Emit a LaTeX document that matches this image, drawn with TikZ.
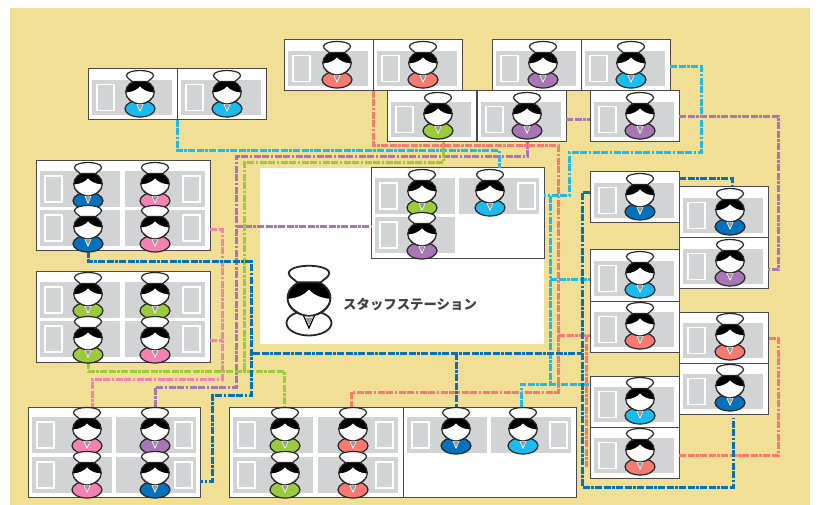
\documentclass[tikz,border=0pt]{standalone}
\usepackage{fontspec}
\newfontfamily\cjk{Noto Sans CJK JP}
\definecolor{floorbg}{HTML}{F0DF94}
\definecolor{panelgray}{HTML}{D1D3D4}
\definecolor{boxline}{HTML}{4A4A4A}
\definecolor{ncyan}{HTML}{1CBBEE}
\definecolor{nblue}{HTML}{0072BC}
\definecolor{npink}{HTML}{F282B4}
\definecolor{npurple}{HTML}{A875B5}
\definecolor{ngreen}{HTML}{9BCB3C}
\definecolor{nsalmon}{HTML}{F47A72}
\tikzset{
  unit/.style={draw=boxline, fill=white, line width=1pt, minimum width=89pt, minimum height=51pt,
    inner sep=0pt, outer sep=0pt, anchor=north west},
  group/.style={unit, minimum width=174pt, minimum height=90pt},
  panel/.style={fill=panelgray},
  slot/.style={draw=white, line width=1.5pt},
  wire/.style={line width=3pt, dash pattern=on 7pt off 1.5pt on 7pt off 1.5pt on 2.5pt off 1.5pt},
  nurseline/.style={line width=1.2pt, draw=black!85},
  collar/.style={fill=white},
  pics/nurse/.style={code={
    \filldraw[fill=#1, nurseline] (0,38.7) ellipse [x radius=15, y radius=8.3];
    \path[collar] (-4,33) -- (4,33) -- (0,42) -- cycle;
    \fill[gray!80] (-2.5,35) -- (2.5,35) -- (0,40) -- cycle;
    \filldraw[fill=black, nurseline] (0,22) ellipse [x radius=14.3, y radius=11.8];
    \fill[white] (-13.6,22.5) .. controls (-8,22) and (-3,20) .. (0,16.5) .. controls (3,20) and (8,22) .. (13.6,22.5)
      .. controls (13.6,28) and (6,33.3) .. (0,33.3) .. controls (-6,33.3) and (-13.6,28) .. (-13.6,22.5) -- cycle;
    \filldraw[fill=white, nurseline] (-8,11.5) .. controls (-9,10) and (-13.5,8) .. (-13.5,5.5)
      .. controls (-13.5,2) and (-6,0.5) .. (0,0.5) .. controls (6,0.5) and (13.5,2) .. (13.5,5.5)
      .. controls (13.5,8) and (9,10) .. (8,11.5) -- cycle;
  }},
}

\begin{document}
\begin{tikzpicture}[x=1pt, y=-1pt]
  \useasboundingbox (0,0) rectangle (817,505);
  \fill[white] (0,0) rectangle (817,505);
  \fill[floorbg] (10,8) rectangle (810,505);
  \fill[white] (260,168) rectangle (544,344);

  % single desks
  \foreach \n/\x/\y in {wa/88/69, wb/177/69, ra/284/40, rb/373/40, pa/492/40, pb/581/40,
      qa/387/91, qb/477/91, qc/590/91, ea/590/172, eb/679/187, ec/679/238,
      ed/590/250, ee/590/301, ef/679/312, eg/679/363, eh/590/376, ei/590/427} {
    \node[unit] (\n) at (\x,\y) {};
    \fill[panel] (\x+4,\y+11) rectangle ++(80,35);
    \draw[slot] (\x+9,\y+15.5) rectangle ++(17,26);
  }

  % shared desks
  \node[group] (ga) at (36,161) {};
  \node[group] (gb) at (36,272) {};
  \node[group, minimum width=172pt] (gc) at (28,407) {};
  \node[group] (gd) at (229,407) {};
  \node[group, minimum width=173pt] (ge) at (403,407) {};
  \node[group, minimum width=173pt, minimum height=91pt] (cn) at (371,168) {};
  \foreach \x/\y/\s in {40/171/5, 125/171/58, 40/210/5, 125/210/58,
      40/282/5, 125/282/58, 40/321/5, 125/321/58,
      32/417/5, 116/417/59, 32/457/5, 116/457/59,
      233/417/5, 318/417/58, 233/457/5, 318/457/58,
      407/417/5, 491/417/59, 375/178/5, 459/178/59, 375/217/5} {
    \fill[panel] (\x,\y) rectangle ++(80,36);
    \draw[slot] (\x+\s,\y+5) rectangle ++(17,26);
  }

  % cyan lines
  \coordinate (cya) at (499,151);
  \coordinate (cyb) at (701,153);
  \coordinate (cyc) at (569,196);
  \coordinate (cyd) at (550,196);
  \coordinate (cye) at (550,384);
  \coordinate (cyf) at (550,280);
  \coordinate (cyg) at (521,384);
  \coordinate (cyh) at (670,67);
  \draw[wire, ncyan] (wa.south east) |- (cya) -- (cya |- cn.north);
  \draw[wire, ncyan] (cyh -| pb.east) -| (cyb) -| (cyc) -- (cyc -| cn.east);
  \draw[wire, ncyan] (cyd) -- (cye);
  \draw[wire, ncyan] (cyf) -- (cyf -| ed.west);
  \draw[wire, ncyan] (cyg |- ge.north) -- (cyg) -- (cyg -| eh.west);

  % purple lines
  \coordinate (pua) at (236,157);
  \coordinate (pub) at (527,157);
  \coordinate (puc) at (155,387);
  \coordinate (pud) at (236,227);
  \coordinate (pue) at (578,120);
  \coordinate (puf) at (778,270);
  \draw[wire, npurple] (pub |- qb.south) -- (pub) -- (pua) |- (puc) -- (puc |- gc.north);
  \draw[wire, npurple] (pud) -- (pud -| cn.west);
  \draw[wire, npurple] (pue -| qb.east) -- (pue -| qc.west);
  \draw[wire, npurple] (qc.east) -| (puf) -- (puf -| ec.east);

  % green lines
  \coordinate (gra) at (443,163);
  \coordinate (grb) at (244,163);
  \coordinate (grc) at (284,371);
  \coordinate (grd) at (88,371);
  \draw[wire, ngreen] (gra |- qa.south) -- (gra) -- (grb) -- (grb |- grc);
  \draw[wire, ngreen] (grd |- gb.south) -- (grd) -- (grc) -- (grc |- gd.north);

  % salmon lines
  \coordinate (saa) at (558,146);
  \coordinate (sab) at (558,392);
  \coordinate (sac) at (351,392);
  \coordinate (sad) at (558,335);
  \coordinate (sae) at (586,335);
  \coordinate (saf) at (586,467);
  \coordinate (sag) at (778,455);
  \coordinate (sah) at (778,338);
  \draw[wire, nsalmon] (ra.south east) |- (saa) -- (sab) -- (sac) -- (sac |- gd.north);
  \draw[wire, nsalmon] (sad) -- (sad -| ee.west);
  \draw[wire, nsalmon] (sae) -- (saf);
  \draw[wire, nsalmon] (sag -| ei.east) -- (sag) -- (sah) -- (sah -| ef.east);

  % pink lines
  \coordinate (pia) at (222,230);
  \coordinate (pib) at (222,379);
  \coordinate (pic) at (92,379);
  \coordinate (pid) at (222,340);
  \draw[wire, npink] (pia -| ga.east) -- (pia) -- (pib) -- (pic) -- (pic |- gc.north);
  \draw[wire, npink] (pid -| gb.east) -- (pid);

  % blue lines
  \coordinate (bla) at (88,262);
  \coordinate (blb) at (251,262);
  \coordinate (blc) at (251,395);
  \coordinate (bld) at (212,395);
  \coordinate (ble) at (212,481);
  \coordinate (blf) at (253,353);
  \coordinate (blg) at (582,353);
  \coordinate (blh) at (456,353);
  \coordinate (bli) at (582,193);
  \coordinate (blj) at (582,487);
  \coordinate (blk) at (733,487);
  \coordinate (bll) at (733,418);
  \coordinate (blm) at (732,179);
  \draw[wire, nblue] (bla |- ga.south) -- (bla) -- (blb) -- (blc) -- (bld) -- (ble) -- (ble -| gc.east);
  \draw[wire, nblue] (blf) -- (blg);
  \draw[wire, nblue] (blh) -- (blh |- ge.north);
  \draw[wire, nblue] (bli -| ea.west) -- (bli) -- (blj) -- (blk) -- (bll);
  \draw[wire, nblue] (blm -| ea.east) -- (blm) -- (blm |- eb.north);

  % nurses
  \foreach \x/\y/\c in {140/70/ncyan, 227/70/ncyan, 337/41/nsalmon, 423/41/nsalmon,
      543/41/npurple, 631/41/ncyan, 438/92/ngreen, 527/92/npurple, 640/92/npurple,
      640/173/nblue, 730/188/nblue, 730/239/npurple, 640/251/ncyan, 640/302/nsalmon,
      730/313/nsalmon, 730/364/nblue, 640/377/ncyan, 640/428/nsalmon,
      88/162/nblue, 155/162/npink, 88/205/nblue, 155/205/npink,
      88/272/ngreen, 155/272/ngreen, 88/316/ngreen, 155/316/npink,
      87/407/npink, 155/407/npurple, 87/451/npink, 155/451/nblue,
      285/407/ngreen, 353/407/nsalmon, 285/451/ngreen, 353/451/nsalmon,
      456/407/nblue, 523/407/ncyan, 422/169/ngreen, 490/169/ncyan, 422/212/npurple}
    \pic at (\x,\y) {nurse=\c};

  % station
  \pic[scale=1.5, nurseline/.style={line width=1.8pt, draw=black!85}, collar/.style={fill=white, draw=black, line width=1.2pt}]
    at (309,265) {nurse=white};
  \node[anchor=west, inner sep=0pt, text=black!75] (stlabel) at (343,305) {\cjk\fontsize{13.4}{16}\selectfont\bfseries スタッフステーション};
\end{tikzpicture}
\end{document}
